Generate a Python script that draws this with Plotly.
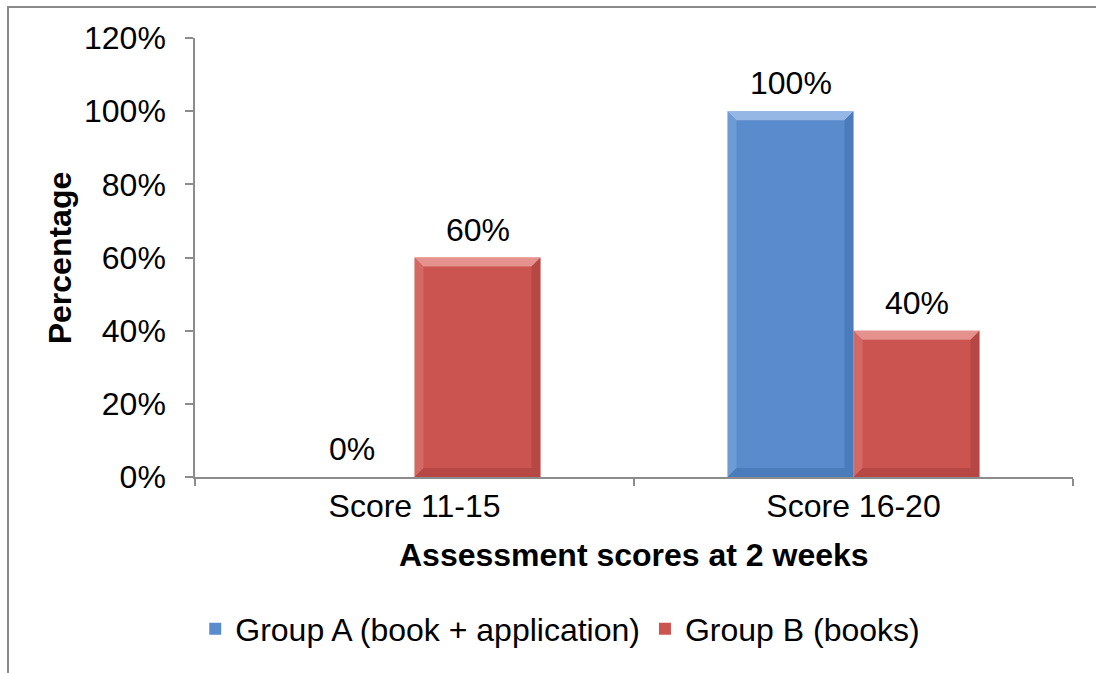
import plotly.graph_objects as go

# Chart data
categories = ["Score 11-15", "Score 16-20"]
group_a_name = "Group A (book + application)"
group_b_name = "Group B (books)"
group_a = [0, 100]
group_b = [60, 40]
y_ticks = [0, 20, 40, 60, 80, 100, 120]
y_tick_text = [f"{v}%" for v in y_ticks]

FONT = "Liberation Sans, Arial, sans-serif"
AXIS_GRAY = "#8c8c8c"
FRAME_GRAY = "#8a8a8a"
BLUE = "#5a8ccd"
RED = "#cb5450"
BAR_GAP = 0.426
Y_MAX = 120
FIG_W, FIG_H = 1096, 673
M_L, M_R, M_T, M_B = 195, 23, 38, 196
PLOT_W, PLOT_H = FIG_W - M_L - M_R, FIG_H - M_T - M_B

fig = go.Figure()
fig.add_trace(go.Bar(name=group_a_name, x=categories, y=group_a,
                     marker=dict(color=BLUE, line=dict(width=0))))
fig.add_trace(go.Bar(name=group_b_name, x=categories, y=group_b,
                     marker=dict(color=RED, line=dict(width=0))))

# Bevel shading on each bar, built from the bar's own value and slot
bar_w = (1 - BAR_GAP) / 2
bx = 9 / (PLOT_W / len(categories))      # bevel width in category units
by = 9 * Y_MAX / PLOT_H                  # bevel height in data units
shapes = []
for vals, left_offset, hi, lo in ((group_a, -bar_w, "#a9c6ee", "#2f5f9c"),
                                  (group_b, 0.0, "#eea5a2", "#8e302d")):
    for i, v in enumerate(vals):
        if v <= 0:
            continue
        x0, x1 = i + left_offset, i + left_offset + bar_w
        # lit top edge
        shapes.append(dict(type="path", xref="x", yref="y", layer="above",
                           path=f"M {x0},{v} L {x1},{v} L {x1-bx},{v-by} L {x0+bx},{v-by} Z",
                           fillcolor=hi, opacity=0.75, line=dict(width=0)))
        # shaded right edge
        shapes.append(dict(type="path", xref="x", yref="y", layer="above",
                           path=f"M {x1},{v} L {x1},0 L {x1-bx},{by} L {x1-bx},{v-by} Z",
                           fillcolor=lo, opacity=0.35, line=dict(width=0)))
        # shaded bottom edge
        shapes.append(dict(type="path", xref="x", yref="y", layer="above",
                           path=f"M {x0},0 L {x1},0 L {x1-bx},{by} L {x0+bx},{by} Z",
                           fillcolor=lo, opacity=0.35, line=dict(width=0)))
        # lighter left edge
        shapes.append(dict(type="path", xref="x", yref="y", layer="above",
                           path=f"M {x0},{v} L {x0+bx},{v-by} L {x0+bx},{by} L {x0},0 Z",
                           fillcolor=hi, opacity=0.25, line=dict(width=0)))

# Outer chart frame: thin filled strips along the left and top edges
def px_x(px):
    return (px - M_L) / PLOT_W

def px_y(px):
    return (M_T + PLOT_H - px) / PLOT_H

shapes.append(dict(type="rect", xref="paper", yref="paper", layer="below",
                   x0=px_x(7), x1=px_x(9), y0=px_y(FIG_H), y1=px_y(6),
                   fillcolor=FRAME_GRAY, line=dict(width=0)))
shapes.append(dict(type="rect", xref="paper", yref="paper", layer="below",
                   x0=px_x(7), x1=px_x(FIG_W), y0=px_y(8), y1=px_y(6),
                   fillcolor=FRAME_GRAY, line=dict(width=0)))

# Value labels above each bar
annotations = []
half_bar = 63
for vals, shift in ((group_a, -half_bar), (group_b, half_bar)):
    for cat, v in zip(categories, vals):
        annotations.append(dict(
            x=cat, y=v, xref="x", yref="y", xshift=shift, yshift=8,
            text=f"{v}%", showarrow=False, yanchor="bottom",
            font=dict(family=FONT, size=32, color="black"),
        ))

# Axis titles
annotations.append(dict(
    x=0.5, y=-0.178, xref="paper", yref="paper", text="<b>Assessment scores at 2 weeks</b>",
    showarrow=False, xanchor="center", yanchor="middle",
    font=dict(family=FONT, size=32, color="black"),
))
annotations.append(dict(
    x=-0.154, y=0.5, xref="paper", yref="paper", text="<b>Percentage</b>",
    showarrow=False, xanchor="center", yanchor="middle", textangle=-90,
    font=dict(family=FONT, size=32, color="black"),
))

fig.update_layout(
    width=FIG_W, height=FIG_H,
    margin=dict(l=M_L, r=M_R, t=M_T, b=M_B),
    paper_bgcolor="white", plot_bgcolor="white",
    barmode="group", bargap=BAR_GAP, bargroupgap=0,
    font=dict(family=FONT, size=32, color="black"),
    showlegend=True,
    legend=dict(
        orientation="h", x=0.416, y=-0.346, xanchor="center", yanchor="middle",
        font=dict(family=FONT, size=32, color="black"),
        bgcolor="rgba(0,0,0,0)",
    ),
    annotations=annotations,
    shapes=shapes,
)

fig.update_xaxes(
    type="category", showline=True, linecolor=AXIS_GRAY, linewidth=1.5,
    ticks="outside", tickson="boundaries", ticklen=7, tickcolor=AXIS_GRAY, tickwidth=1.5,
    showgrid=False, zeroline=False,
    tickfont=dict(family=FONT, size=32, color="black"),
)
fig.update_yaxes(
    range=[0, Y_MAX], tickvals=y_ticks, ticktext=y_tick_text,
    showline=True, linecolor=AXIS_GRAY, linewidth=1.5,
    ticks="outside", ticklen=8, tickcolor=AXIS_GRAY, tickwidth=1.5,
    ticklabelstandoff=13,
    showgrid=False, zeroline=False,
    tickfont=dict(family=FONT, size=32, color="black"),
)

fig.write_html(
    "out.html",
    post_script="document.body.style.margin='0';document.body.style.overflow='hidden';",
)
